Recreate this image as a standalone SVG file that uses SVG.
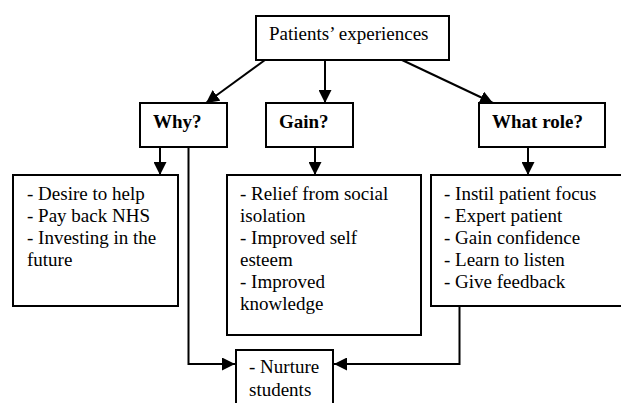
<svg xmlns="http://www.w3.org/2000/svg" width="621" height="403" viewBox="0 0 621 403">
<style>
.box{fill:#fff;stroke:#000;stroke-width:2}
.c{fill:none;stroke:#000;stroke-width:2}
</style>
<defs>
<marker id="ah" markerUnits="userSpaceOnUse" markerWidth="13" markerHeight="13" refX="12" refY="6" orient="auto" viewBox="0 0 12 12">
<path d="M0,0 L12,6 L0,12 z" fill="#000"/>
</marker>
</defs>
<rect width="621" height="403" fill="#fff"/>
<g id="connectors">
<line class="c" x1="265" y1="60" x2="206" y2="103" marker-end="url(#ah)"/>
<line class="c" x1="325" y1="60" x2="325" y2="103" marker-end="url(#ah)"/>
<line class="c" x1="402" y1="60" x2="493" y2="103" marker-end="url(#ah)"/>
<line class="c" x1="160" y1="147" x2="160" y2="175" marker-end="url(#ah)"/>
<line class="c" x1="315" y1="147" x2="315" y2="175" marker-end="url(#ah)"/>
<line class="c" x1="528" y1="147" x2="528" y2="175" marker-end="url(#ah)"/>
<polyline class="c" points="188.5,147 188.5,364 235,364" marker-end="url(#ah)"/>
<polyline class="c" points="459.5,306 459.5,364 334,364" marker-end="url(#ah)"/>
</g>
<g id="patients">
<rect class="box" x="256" y="16" width="193" height="44"/>
<text x="269" y="40" font-family="Liberation Serif" font-size="19">Patients’ experiences</text>
</g>
<g id="why">
<rect class="box" x="140" y="103" width="87" height="44"/>
<text x="153" y="128" font-family="Liberation Serif" font-size="19" font-weight="bold">Why?</text>
</g>
<g id="gain">
<rect class="box" x="266" y="103" width="87" height="44"/>
<text x="279" y="128" font-family="Liberation Serif" font-size="19" font-weight="bold">Gain?</text>
</g>
<g id="role">
<rect class="box" x="479" y="103" width="126" height="44"/>
<text x="492" y="128" font-family="Liberation Serif" font-size="19" font-weight="bold">What role?</text>
</g>
<g id="why-list">
<rect class="box" x="13" y="175" width="165" height="131"/>
<text x="27" y="200" font-family="Liberation Serif" font-size="19">- Desire to help</text>
<text x="27" y="222" font-family="Liberation Serif" font-size="19">- Pay back NHS</text>
<text x="27" y="244" font-family="Liberation Serif" font-size="19">- Investing in the</text>
<text x="27" y="266" font-family="Liberation Serif" font-size="19">future</text>
</g>
<g id="gain-list">
<rect class="box" x="227" y="175" width="194" height="160"/>
<text x="240" y="200" font-family="Liberation Serif" font-size="19">- Relief from social</text>
<text x="240" y="222" font-family="Liberation Serif" font-size="19">isolation</text>
<text x="240" y="244" font-family="Liberation Serif" font-size="19">- Improved self</text>
<text x="240" y="266" font-family="Liberation Serif" font-size="19">esteem</text>
<text x="240" y="288" font-family="Liberation Serif" font-size="19">- Improved</text>
<text x="240" y="310" font-family="Liberation Serif" font-size="19">knowledge</text>
</g>
<g id="role-list">
<rect class="box" x="431" y="175" width="192" height="131"/>
<text x="444" y="200" font-family="Liberation Serif" font-size="19">- Instil patient focus</text>
<text x="444" y="222" font-family="Liberation Serif" font-size="19">- Expert patient</text>
<text x="444" y="244" font-family="Liberation Serif" font-size="19">- Gain confidence</text>
<text x="444" y="266" font-family="Liberation Serif" font-size="19">- Learn to listen</text>
<text x="444" y="288" font-family="Liberation Serif" font-size="19">- Give feedback</text>
</g>
<g id="nurture">
<rect class="box" x="236" y="350" width="97" height="60"/>
<text x="249" y="373" font-family="Liberation Serif" font-size="19">- Nurture</text>
<text x="249" y="396" font-family="Liberation Serif" font-size="19">students</text>
</g>
</svg>
